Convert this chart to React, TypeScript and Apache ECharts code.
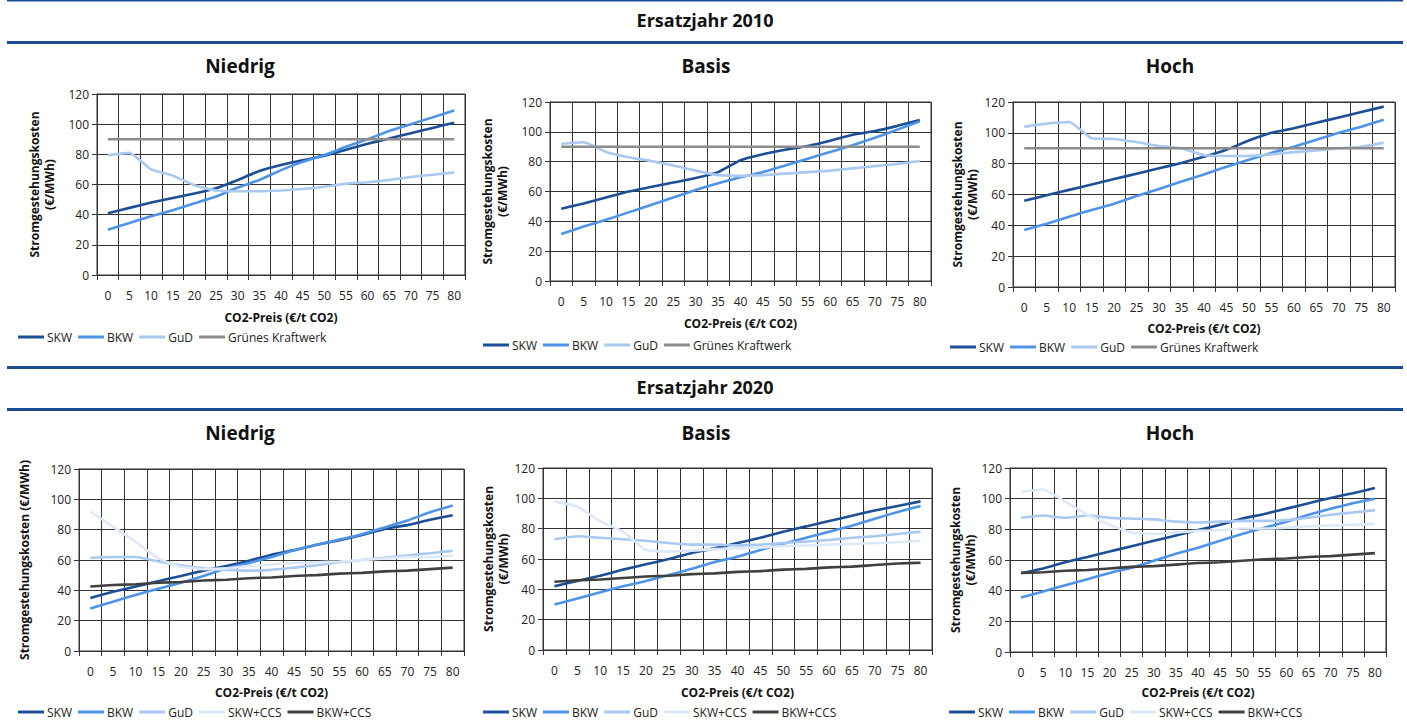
import React, { useEffect, useRef } from "react";
import * as echarts from "echarts";

const co2Prices = ["0", "5", "10", "15", "20", "25", "30", "35", "40", "45", "50", "55", "60", "65", "70", "75", "80"];

// Ersatzjahr 2010
const e10NiedrigSKW = [41, 44.5, 48, 51, 54, 57.5, 63, 69, 73, 76, 79, 83, 87, 90.5, 94, 97.5, 101];
const e10NiedrigBKW = [30, 34.5, 39, 43, 47.5, 52, 58, 63, 69.5, 75, 79.5, 85, 90, 95.5, 100, 104.5, 109];
const e10NiedrigGuD = [79.5, 81, 70, 66, 59.5, 56, 55.5, 55.5, 56, 57, 58.5, 60.5, 61.5, 63, 65, 66.5, 68];
const e10NiedrigGK = [90, 90, 90, 90, 90, 90, 90, 90, 90, 90, 90, 90, 90, 90, 90, 90, 90];

const e10BasisSKW = [48.5, 52, 56, 60, 63, 66, 69, 73, 81, 85, 88, 90.5, 94, 98, 100.5, 104, 108];
const e10BasisBKW = [31.5, 36.5, 41, 46, 51, 56, 61, 65.5, 69.5, 73, 77.5, 82, 86.5, 91, 96, 101.5, 107];
const e10BasisGuD = [92, 93, 86.5, 83, 80.5, 77.5, 74, 71, 70.5, 71, 72, 73, 74, 75.5, 77, 78.5, 80.5];
const e10BasisGK = [90, 90, 90, 90, 90, 90, 90, 90, 90, 90, 90, 90, 90, 90, 90, 90, 90];

const e10HochSKW = [56, 59.5, 63, 66.5, 70, 73.5, 77, 80.5, 84.5, 89, 95, 100, 103, 106.5, 110, 113.5, 117];
const e10HochBKW = [37, 41, 45.5, 50, 54, 59, 63.5, 68.5, 73, 78, 82.5, 87, 91, 95.5, 100, 104, 108.5];
const e10HochGuD = [104, 106, 107, 96.5, 96, 94, 91.5, 90, 85.5, 85, 85, 86, 87.5, 88.5, 90, 91, 93.5];
const e10HochGK = [90, 90, 90, 90, 90, 90, 90, 90, 90, 90, 90, 90, 90, 90, 90, 90, 90];

// Ersatzjahr 2020
const e20NiedrigSKW = [35, 39, 42.5, 46, 49.5, 53, 56, 59.5, 63.5, 66.5, 70, 73, 76.5, 80.5, 83, 86.5, 89.5];
const e20NiedrigBKW = [28, 32.5, 37, 41, 45, 49.5, 54.5, 58, 62, 66.5, 70, 73.5, 77, 81.5, 86, 91.5, 96];
const e20NiedrigGuD = [61.5, 62, 62, 59, 56.5, 54.5, 53.5, 53, 53.5, 55, 56.5, 58.5, 60, 61.5, 63, 64.5, 66];
const e20NiedrigSKWCCS = [92, 82, 72, 61, 55.5, 54, 54.5, 56, 57, 58, 58.5, 59, 60, 61, 62, 62, 63];
const e20NiedrigBKWCCS = [42.5, 43.5, 44, 45, 45.5, 46.5, 47, 48, 48.5, 49.5, 50, 51, 51.5, 52.5, 53, 54, 55];

const e20BasisSKW = [42, 45.5, 49, 53, 56.5, 60, 64, 67, 70.5, 74, 78, 81.5, 85, 88.5, 92, 95, 98];
const e20BasisBKW = [30, 34, 38, 42, 45.5, 49.5, 53.5, 58, 61.5, 66, 70, 74, 78, 82, 86.5, 91, 95];
const e20BasisGuD = [73, 75, 74, 73, 72, 70.5, 69.5, 69.5, 69, 69.5, 70.5, 71.5, 72.5, 74, 75, 76.5, 78];
const e20BasisSKWCCS = [98, 94.5, 85, 78, 66, 65, 65.5, 66.5, 67, 67.5, 68.5, 69, 69.5, 70, 70.5, 71, 72];
const e20BasisBKWCCS = [45, 46, 46.5, 47.5, 48.5, 49, 50, 50.5, 51.5, 52, 53, 53.5, 54.5, 55, 56, 57, 57.5];

const e20HochSKW = [51.5, 54.5, 58.5, 62, 65.5, 69, 72.5, 76, 79.5, 83, 87, 90, 93.5, 97, 100.5, 103.5, 107];
const e20HochBKW = [35.5, 39.5, 43.5, 47.5, 51.5, 55, 59.5, 64, 68, 72.5, 77, 81, 85, 89.5, 93.5, 97, 100];
const e20HochGuD = [87.5, 89, 87.5, 89, 87.5, 87, 86.5, 85, 84.5, 85, 85.5, 85.5, 86, 87.5, 89.5, 91, 92.5];
const e20HochSKWCCS = [104.5, 106, 98, 89.5, 83, 78, 77, 78, 79, 79.5, 80.5, 80.5, 81, 82, 82.5, 83, 83.5];
const e20HochBKWCCS = [51.5, 52, 53, 53.5, 54.5, 55.5, 56, 57, 58, 58.5, 59.5, 60.5, 61, 62, 62.5, 63.5, 64.5];

const names2010 = ["SKW", "BKW", "GuD", "Grünes Kraftwerk"];
const names2020 = ["SKW", "BKW", "GuD", "SKW+CCS", "BKW+CCS"];

const COLORS: Record<string, string> = {
  SKW: "#1d4f96",
  BKW: "#4d94e8",
  GuD: "#a9c9f0",
  "SKW+CCS": "#dde9f8",
  "Grünes Kraftwerk": "#8c8c8c",
  "BKW+CCS": "#404040",
};

const FONT = "'Open Sans', 'Noto Sans', sans-serif";
const HEADER_BLUE = "#1a4b94";

type Panel = {
  grid: { left: number; top: number; width: number; height: number };
  names: string[];
  data: number[][];
  yName: string;
  yNameGap: number;
  xNameGap: number;
  legend: { left: number; top: number };
};

const panels: Panel[] = [
  {
    grid: { left: 97, top: 94, width: 368, height: 181 },
    names: names2010,
    data: [e10NiedrigSKW, e10NiedrigBKW, e10NiedrigGuD, e10NiedrigGK],
    yName: "Stromgestehungskosten\n(€/MWh)",
    yNameGap: 40,
    xNameGap: 36,
    legend: { left: 18, top: 331 },
  },
  {
    grid: { left: 550, top: 102, width: 381, height: 179 },
    names: names2010,
    data: [e10BasisSKW, e10BasisBKW, e10BasisGuD, e10BasisGK],
    yName: "Stromgestehungskosten\n(€/MWh)",
    yNameGap: 40,
    xNameGap: 36,
    legend: { left: 483, top: 339 },
  },
  {
    grid: { left: 1013, top: 102, width: 382, height: 185 },
    names: names2010,
    data: [e10HochSKW, e10HochBKW, e10HochGuD, e10HochGK],
    yName: "Stromgestehungskosten\n(€/MWh)",
    yNameGap: 33,
    xNameGap: 35,
    legend: { left: 950, top: 341 },
  },
  {
    grid: { left: 79, top: 469, width: 385, height: 182 },
    names: names2020,
    data: [e20NiedrigSKW, e20NiedrigBKW, e20NiedrigGuD, e20NiedrigSKWCCS, e20NiedrigBKWCCS],
    yName: "Stromgestehungskosten (€/MWh)",
    yNameGap: 47,
    xNameGap: 35,
    legend: { left: 18, top: 706 },
  },
  {
    grid: { left: 543, top: 468, width: 389, height: 182 },
    names: names2020,
    data: [e20BasisSKW, e20BasisBKW, e20BasisGuD, e20BasisSKWCCS, e20BasisBKWCCS],
    yName: "Stromgestehungskosten\n(€/MWh)",
    yNameGap: 31,
    xNameGap: 36,
    legend: { left: 483, top: 706 },
  },
  {
    grid: { left: 1010, top: 468, width: 376, height: 184 },
    names: names2020,
    data: [e20HochSKW, e20HochBKW, e20HochGuD, e20HochSKWCCS, e20HochBKWCCS],
    yName: "Stromgestehungskosten\n(€/MWh)",
    yNameGap: 30,
    xNameGap: 34,
    legend: { left: 949, top: 706 },
  },
];

const subtitles = [
  { text: "Niedrig", x: 240 },
  { text: "Basis", x: 706 },
  { text: "Hoch", x: 1170 },
];

function buildOption() {
  const grid: any[] = [];
  const xAxis: any[] = [];
  const yAxis: any[] = [];
  const series: any[] = [];
  const legend: any[] = [];

  panels.forEach((p, i) => {
    grid.push({ ...p.grid, show: true, borderColor: "#333", borderWidth: 1, backgroundColor: "transparent" });
    xAxis.push({
      gridIndex: i,
      type: "category",
      data: co2Prices,
      boundaryGap: true,
      name: "CO2-Preis (€/t CO2)",
      nameLocation: "middle",
      nameGap: p.xNameGap,
      nameTextStyle: { fontFamily: FONT, fontSize: 12, fontWeight: "bold", color: "#111" },
      axisLine: { show: true, lineStyle: { color: "#333", width: 1 } },
      axisTick: { show: true, length: 5, lineStyle: { color: "#333" } },
      axisLabel: { interval: 0, fontFamily: FONT, fontSize: 12, color: "#222", margin: 14 },
      splitLine: { show: true, lineStyle: { color: "#333", width: 1 } },
    });
    yAxis.push({
      gridIndex: i,
      type: "value",
      min: 0,
      max: 120,
      interval: 20,
      name: p.yName,
      nameLocation: "middle",
      nameRotate: 90,
      nameGap: p.yNameGap,
      nameTextStyle: { fontFamily: FONT, fontSize: 12, fontWeight: "bold", color: "#111", lineHeight: 15 },
      axisLine: { show: true, lineStyle: { color: "#333", width: 1 } },
      axisTick: { show: true, length: 5, lineStyle: { color: "#333" } },
      axisLabel: { fontFamily: FONT, fontSize: 12, color: "#222", margin: 8 },
      splitLine: { show: true, lineStyle: { color: "#333", width: 1 } },
    });
    p.names.forEach((name, k) => {
      series.push({
        type: "line",
        name,
        xAxisIndex: i,
        yAxisIndex: i,
        data: p.data[k],
        symbol: "none",
        smooth: 0.15,
        lineStyle: { color: COLORS[name], width: 2.6 },
        itemStyle: { color: COLORS[name] },
        emphasis: { disabled: true },
      });
    });
    legend.push({
      left: p.legend.left,
      top: p.legend.top,
      orient: "horizontal",
      icon: "rect",
      itemWidth: 26,
      itemHeight: 3,
      itemGap: 6,
      selectedMode: false,
      padding: 0,
      textStyle: { fontFamily: FONT, fontSize: 12, color: "#222", padding: [0, 0, 0, -2] },
      data: p.names,
    });
  });

  const headerText = (text: string, x: number, y: number, size: number) => ({
    type: "text",
    x,
    y,
    style: {
      text,
      fill: "#111",
      font: `bold ${size}px ${FONT}`,
      textAlign: "center",
      textVerticalAlign: "middle",
    },
  });
  const bar = (y: number, h: number) => ({
    type: "rect",
    shape: { x: 7, y, width: 1396, height: h },
    style: { fill: HEADER_BLUE },
  });

  const graphic: any[] = [
    bar(0, 1.5),
    headerText("Ersatzjahr 2010", 705, 20, 18),
    bar(41, 3),
    ...subtitles.map((s) => headerText(s.text, s.x, 66, 19)),
    bar(366, 3),
    headerText("Ersatzjahr 2020", 705, 387, 18),
    bar(408, 3),
    ...subtitles.map((s) => headerText(s.text, s.x, 433, 19)),
  ];

  return {
    animation: false,
    backgroundColor: "#ffffff",
    grid,
    xAxis,
    yAxis,
    series,
    legend,
    graphic,
  };
}

export default function App() {
  const ref = useRef<HTMLDivElement>(null);
  useEffect(() => {
    document.body.style.margin = "0";
    if (!ref.current) return;
    const chart = echarts.init(ref.current, undefined, { renderer: "svg" });
    chart.setOption(buildOption());
    return () => chart.dispose();
  }, []);
  return <div ref={ref} style={{ width: 1407, height: 724, position: "relative" }} />;
}
